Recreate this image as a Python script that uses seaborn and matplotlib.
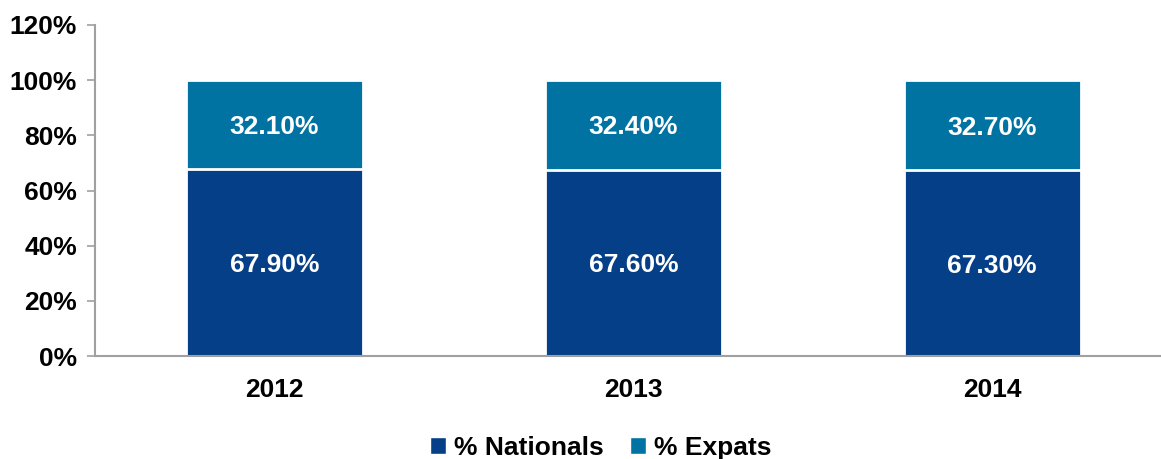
import matplotlib
matplotlib.use("Agg")
import matplotlib.pyplot as plt
from matplotlib.patches import Patch
import seaborn as sns
import pandas as pd

years = ["2012", "2013", "2014"]
nationals = [67.9, 67.6, 67.3]
expats = [32.1, 32.4, 32.7]
yticks = [0, 20, 40, 60, 80, 100, 120]

NAT_COLOR = "#053f87"
EXP_COLOR = "#0073a3"
SPINE = "#a0a0a0"

sns.set_theme(style="white")
plt.rcParams["font.family"] = ["Liberation Sans", "DejaVu Sans"]
plt.rcParams["font.weight"] = "bold"
plt.rcParams["text.color"] = "black"
plt.rcParams["xtick.color"] = "black"
plt.rcParams["ytick.color"] = "black"

df = pd.DataFrame({"year": years, "nationals": nationals, "expats": expats})
df["total"] = df["nationals"] + df["expats"]

fig = plt.figure(figsize=(11.61, 4.59), dpi=100)
ax = fig.add_axes([95 / 1161, 1 - 356 / 459, 1 - 95 / 1161, (356 - 25) / 459])

# stacked bars: full height in the expat colour, nationals drawn over the base
sns.barplot(data=df, x="year", y="total", color=EXP_COLOR, saturation=1,
            width=0.493, edgecolor="white", linewidth=2, ax=ax)
sns.barplot(data=df, x="year", y="nationals", color=NAT_COLOR, saturation=1,
            width=0.493, edgecolor="white", linewidth=2, ax=ax)

for i, (n, e) in enumerate(zip(nationals, expats)):
    ax.text(i, n / 2, f"{n:.2f}%", ha="center", va="center_baseline",
            color="white", fontsize=19, fontweight="bold")
    ax.text(i, n + e / 2, f"{e:.2f}%", ha="center", va="center_baseline",
            color="white", fontsize=19, fontweight="bold")

ax.set_ylim(0, 120)
ax.set_xlim(-0.5, 2.47)
ax.set_yticks(yticks)
ax.set_yticklabels([f"{t}%" for t in yticks], fontsize=19, fontweight="bold",
                   color="black")
ax.set_xticks(range(len(years)))
ax.set_xticklabels(years, fontsize=19, fontweight="bold", color="black")
ax.set_xlabel("")
ax.set_ylabel("")

ax.tick_params(axis="y", length=6, width=1.2, color=SPINE, pad=7, left=True)
ax.tick_params(axis="x", length=0, pad=16)

for side in ["top", "right"]:
    ax.spines[side].set_visible(False)
for side in ["left", "bottom"]:
    ax.spines[side].set_color(SPINE)
    ax.spines[side].set_linewidth(1.5)

handles = [Patch(facecolor=NAT_COLOR, label="% Nationals"),
           Patch(facecolor=EXP_COLOR, label="% Expats")]
fig.legend(handles=handles, loc="center", ncol=2, frameon=False,
           bbox_to_anchor=(601 / 1161, 1 - 448 / 459),
           prop={"size": 19, "weight": "bold"}, labelcolor="black",
           handlelength=0.6, handleheight=0.6, handletextpad=0.3,
           columnspacing=1.0)

fig.savefig("out.png", dpi=100)
